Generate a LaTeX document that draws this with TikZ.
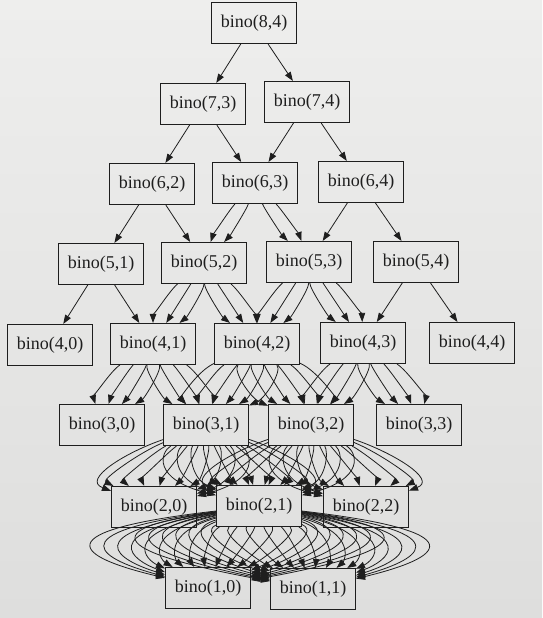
\documentclass[tikz,border=0pt]{standalone}
\usepackage{fontspec}
\setmainfont{Liberation Serif}
\usetikzlibrary{arrows.meta,calc}
\definecolor{bgtop}{RGB}{238,238,237}
\definecolor{bgbot}{RGB}{222,222,221}
\definecolor{ink}{RGB}{30,30,30}
\tikzset{
  bnode/.style={draw=ink, line width=1.1pt, rectangle, minimum width=85pt,
    minimum height=41pt, inner sep=0pt, text=ink,
    font=\fontsize{18}{20}\selectfont},
  edge/.style={draw=ink, line width=0.8pt, -{Triangle[length=9pt,width=6.5pt]}},
}
% bundle of #3 parallel/fanned edges from #1 to #2; #4, #5 = spread of control points
\newcommand\bundle[5]{%
  \foreach \bi in {1,...,#3}{%
    \pgfmathsetmacro\bs{\bi-(#3+1)/2}%
    \draw[edge] (#1) .. controls ($(#1)!1/3!(#2)+(\bs*#4,0)$) and ($(#1)!2/3!(#2)+(\bs*#5,0)$) .. (#2);
  }%
}
\begin{document}
\begin{tikzpicture}[x=1pt,y=-1pt]
\shade[top color=bgtop, bottom color=bgbot] (0,0) rectangle (542,618);
\useasboundingbox (0,0) rectangle (542,618);

\node[bnode] (n84) at (254,23) {bino(8,4)};
\node[bnode] (n73) at (203,104) {bino(7,3)};
\node[bnode] (n74) at (307,102) {bino(7,4)};
\node[bnode] (n62) at (152,184) {bino(6,2)};
\node[bnode] (n63) at (255,183) {bino(6,3)};
\node[bnode] (n64) at (361,182) {bino(6,4)};
\node[bnode] (n51) at (101,264) {bino(5,1)};
\node[bnode] (n52) at (204,263) {bino(5,2)};
\node[bnode] (n53) at (309,262) {bino(5,3)};
\node[bnode] (n54) at (416,262) {bino(5,4)};
\node[bnode] (n40) at (50,345) {bino(4,0)};
\node[bnode] (n41) at (153,344) {bino(4,1)};
\node[bnode] (n42) at (257,344) {bino(4,2)};
\node[bnode] (n43) at (363,343) {bino(4,3)};
\node[bnode] (n44) at (472,343) {bino(4,4)};
\node[bnode] (n30) at (102,425) {bino(3,0)};
\node[bnode] (n31) at (206,425) {bino(3,1)};
\node[bnode] (n32) at (311,425) {bino(3,2)};
\node[bnode] (n33) at (419,425) {bino(3,3)};
\node[bnode] (n20) at (154,507) {bino(2,0)};
\node[bnode] (n21) at (259,506) {bino(2,1)};
\node[bnode] (n22) at (366,507) {bino(2,2)};
\node[bnode] (n10) at (208,588) {bino(1,0)};
\node[bnode] (n11) at (313,589) {bino(1,1)};

\bundle{n84}{n73}{1}{0}{0}
\bundle{n84}{n74}{1}{0}{0}
\bundle{n73}{n62}{1}{0}{0}
\bundle{n73}{n63}{1}{0}{0}
\bundle{n74}{n63}{1}{0}{0}
\bundle{n74}{n64}{1}{0}{0}
\bundle{n62}{n51}{1}{0}{0}
\bundle{n62}{n52}{1}{0}{0}
\bundle{n63}{n52}{2}{17}{17}
\bundle{n63}{n53}{2}{17}{17}
\bundle{n64}{n53}{1}{0}{0}
\bundle{n64}{n54}{1}{0}{0}
\bundle{n51}{n40}{1}{0}{0}
\bundle{n51}{n41}{1}{0}{0}
\bundle{n52}{n41}{3}{17}{17}
\bundle{n52}{n42}{3}{17}{17}
\bundle{n53}{n42}{3}{17}{17}
\bundle{n53}{n43}{3}{17}{17}
\bundle{n54}{n43}{1}{0}{0}
\bundle{n54}{n44}{1}{0}{0}
\bundle{n41}{n30}{4}{17}{17}
\bundle{n41}{n31}{4}{17}{17}
\bundle{n42}{n31}{6}{17}{17}
\bundle{n42}{n32}{6}{17}{17}
\bundle{n43}{n32}{4}{17}{17}
\bundle{n43}{n33}{4}{17}{17}
\bundle{n31}{n20}{10}{14}{20}
\bundle{n31}{n21}{10}{14}{20}
\bundle{n32}{n21}{10}{14}{20}
\bundle{n32}{n22}{10}{14}{20}
\bundle{n21}{n10}{20}{23}{14}
\bundle{n21}{n11}{20}{23}{14}
\end{tikzpicture}
\end{document}
